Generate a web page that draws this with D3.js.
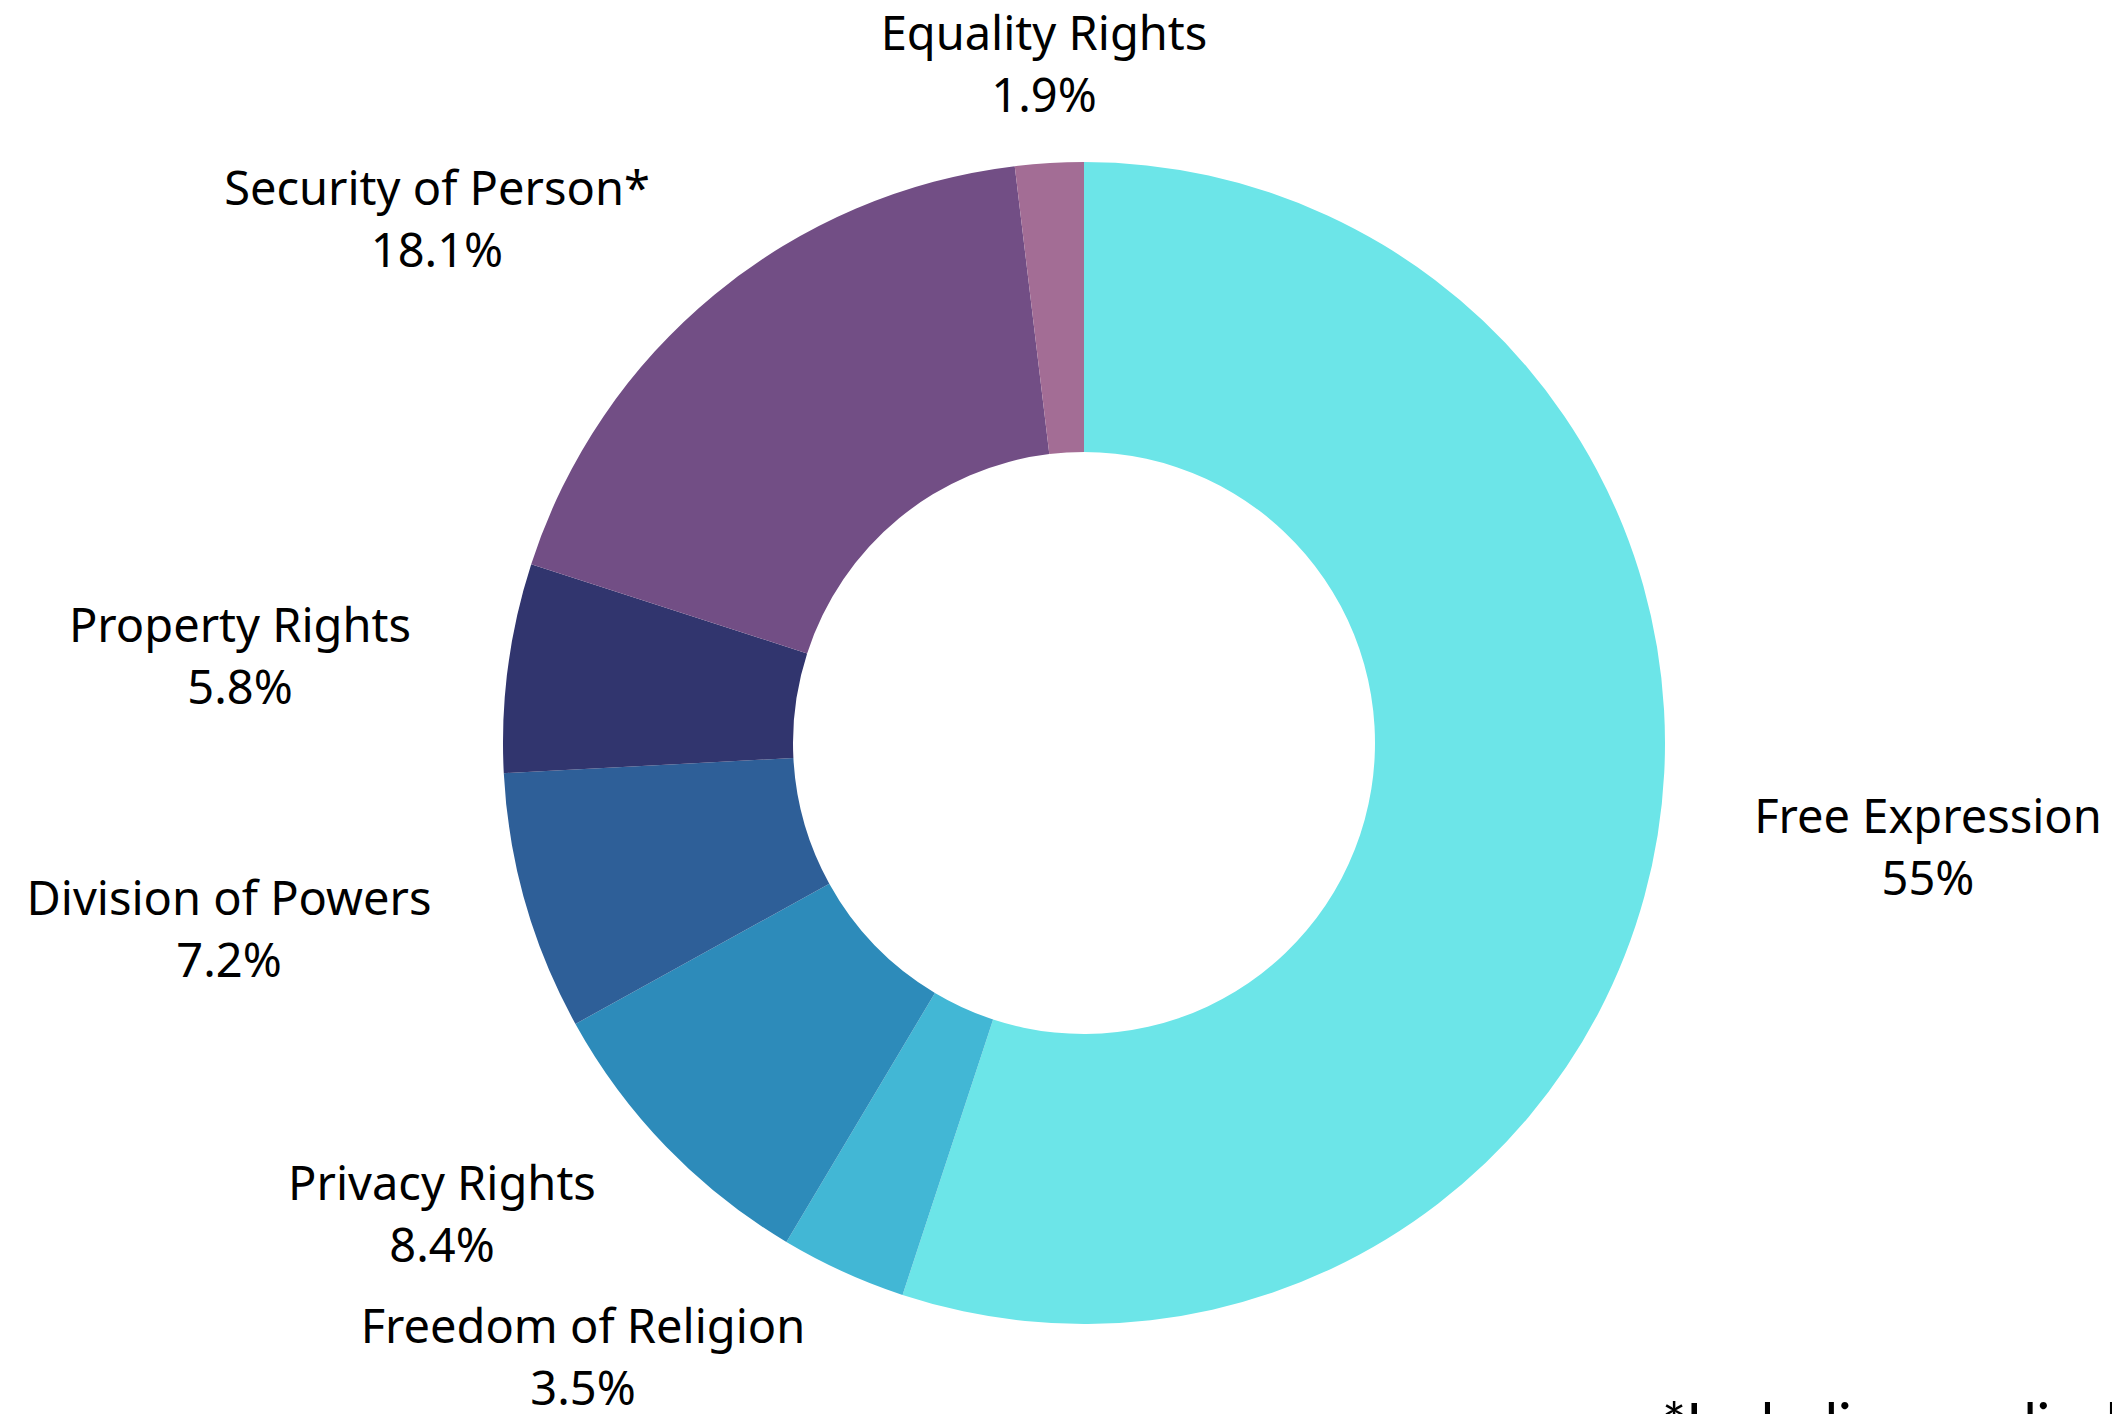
<!DOCTYPE html>
<html>
<head>
<meta charset="utf-8">
<script src="https://cdn.jsdelivr.net/npm/d3@7"></script>
<style>
  html, body { margin: 0; padding: 0; background: #fff; }
  svg { display: block; }
  .label { font-family: "Noto Sans", sans-serif; font-size: 47px; fill: #000; }
  .note { font-family: Lato, sans-serif; font-size: 57px; fill: #000; }
</style>
</head>
<body>
<div class="chart"></div>
<script>
// data
const categories = ['Free Expression', 'Freedom of Religion', 'Privacy Rights', 'Division of Powers', 'Property Rights', 'Security of Person*', 'Equality Rights'];
const shares = [55, 3.5, 8.4, 7.2, 5.8, 18.1, 1.9];
const colours = ['#6ce5e8', '#42b7d5', '#2d8bba', '#2e5f98', '#31356e', '#724e85', '#a36d95'];
const footnote = '*Including medical';

// label anchors (centre x, first baseline), placed by hand like the original
const labelPos = [[1928, 833], [583, 1343], [442, 1200], [229, 915], [240, 642], [437, 205], [1044, 50]];

const width = 2112;
const height = 1414;
const cx = 1084, cy = 743;
const outerR = 581, innerR = 291;

const svg = d3.select('.chart')
    .append('svg')
    .attr('width', width)
    .attr('height', height);

const rows = categories.map((name, i) => ({ name, value: shares[i], colour: colours[i], pos: labelPos[i] }));

const pie = d3.pie().sort(null).value(d => d.value);
const arc = d3.arc().innerRadius(innerR).outerRadius(outerR);

svg.append('g')
    .attr('transform', `translate(${cx}, ${cy})`)
    .selectAll('path')
    .data(pie(rows))
    .enter()
    .append('path')
    .attr('d', arc)
    .style('fill', d => d.data.colour);

// labels
const labels = svg.append('g')
    .selectAll('text')
    .data(rows)
    .enter()
    .append('text')
    .attr('class', 'label')
    .attr('text-anchor', 'middle');

labels.append('tspan')
    .attr('x', d => d.pos[0])
    .attr('y', d => d.pos[1])
    .text(d => d.name);

labels.append('tspan')
    .attr('x', d => d.pos[0])
    .attr('y', d => d.pos[1] + 62)
    .text(d => `${d.value}%`);

// footnote runs off the bottom-right edge, as in the original
svg.append('text')
    .attr('class', 'note')
    .attr('x', 1662)
    .attr('y', 1443)
    .text(footnote);
</script>
</body>
</html>
